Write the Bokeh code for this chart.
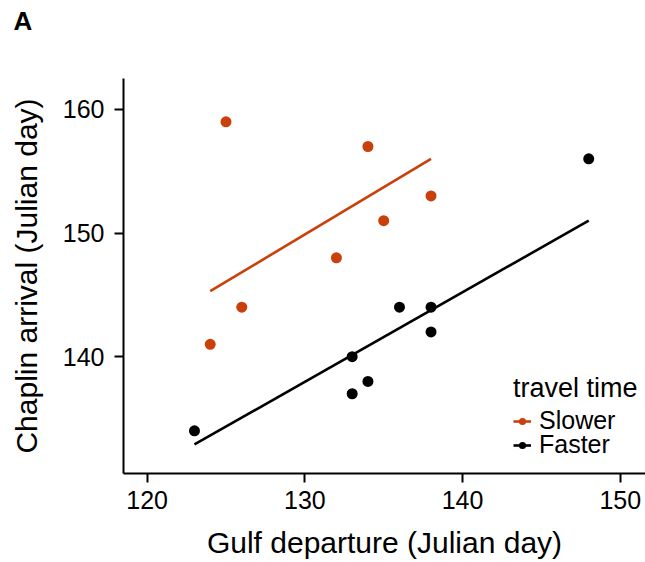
from bokeh.plotting import figure
from bokeh.models import Range1d, Legend, LegendItem, FixedTicker, Title
from bokeh.embed import file_html
from bokeh.resources import INLINE

# Departure from the Gulf vs. arrival at Chaplin (Julian day), split by travel time
slow_depart = [124, 125, 126, 132, 134, 135, 138]
slow_arrive = [141, 159, 144, 148, 157, 151, 153]

fast_depart = [123, 133, 133, 134, 136, 138, 138, 148]
fast_arrive = [134, 140, 137, 138, 144, 144, 142, 156]

# Fitted lines (model predictions at each group's departure range)
slow_fit_x = [124, 138]
slow_fit_y = [145.3, 156.0]
fast_fit_x = [123, 148]
fast_fit_y = [132.9, 151.0]

x_ticks = [120, 130, 140, 150]
y_ticks = [140, 150, 160]

SLOW_COLOR = "#C9400A"
FAST_COLOR = "#000000"
FONT = "Liberation Sans"

p = figure(
    width=645, height=562,
    output_backend="svg", toolbar_location=None,
    x_range=Range1d(118.5, 151.6), y_range=Range1d(130.55, 162.5),
    min_border_left=123, min_border_right=0,
    min_border_top=78, min_border_bottom=89,
)
p.outline_line_color = None
p.xgrid.visible = False
p.ygrid.visible = False
p.background_fill_color = "white"
p.border_fill_color = "white"

# Panel tag in the top-left corner, pushed up by an empty spacer title below it
p.title.text = "A"
p.title.align = "left"
p.title.offset = -110
p.title.vertical_align = "top"
p.title.standoff = 6
p.title.text_font = FONT
p.title.text_font_size = "26px"
p.title.text_font_style = "bold"
p.title.text_color = "black"
p.add_layout(Title(text=" ", text_font_size="2px", standoff=34), "above")

for ax in (p.xaxis[0], p.yaxis[0]):
    ax.axis_line_width = 2
    ax.axis_line_color = "black"
    ax.major_tick_line_width = 2
    ax.major_tick_line_color = "black"
    ax.major_tick_out = 9
    ax.major_tick_in = 0
    ax.minor_tick_line_color = None
    ax.major_label_text_font = FONT
    ax.major_label_text_font_size = "25px"
    ax.major_label_text_color = "black"
    ax.axis_label_text_font = FONT
    ax.axis_label_text_font_size = "30px"
    ax.axis_label_text_font_style = "normal"
    ax.axis_label_text_color = "black"

p.xaxis.ticker = FixedTicker(ticks=x_ticks)
p.yaxis.ticker = FixedTicker(ticks=y_ticks)
p.xaxis.axis_label = "Gulf departure (Julian day)"
p.yaxis.axis_label = "Chaplin arrival (Julian day)"
p.xaxis.major_label_standoff = 8
p.yaxis.major_label_standoff = 10
p.xaxis.axis_label_standoff = 14
p.yaxis.axis_label_standoff = 17

slow_line = p.line(slow_fit_x, slow_fit_y, line_color=SLOW_COLOR, line_width=2.6)
fast_line = p.line(fast_fit_x, fast_fit_y, line_color=FAST_COLOR, line_width=2.6)
slow_pts = p.scatter(slow_depart, slow_arrive, size=11, fill_color=SLOW_COLOR, line_color=None)
fast_pts = p.scatter(fast_depart, fast_arrive, size=11, fill_color=FAST_COLOR, line_color=None)

legend_style = dict(
    title_text_font=FONT, title_text_font_size="27px", title_text_font_style="normal",
    title_text_color="black",
    label_text_font=FONT, label_text_font_size="25px", label_text_color="black",
    label_text_line_height=0.9,
    label_height=22, glyph_height=18, glyph_width=18, spacing=0,
    padding=0, margin=0, title_standoff=2, label_standoff=8,
    border_line_color=None, background_fill_alpha=0,
)

# Two stacked legend blocks so the rows sit close together
legend_slow = Legend(
    items=[LegendItem(label="Slower", renderers=[slow_line, slow_pts])],
    location=(390, 38), title="travel time", **legend_style,
)
legend_fast = Legend(
    items=[LegendItem(label="Faster", renderers=[fast_line, fast_pts])],
    location=(390, 14), **legend_style,
)
p.add_layout(legend_slow, "center")
p.add_layout(legend_fast, "center")

open("out.html", "w").write(file_html(p, INLINE))
